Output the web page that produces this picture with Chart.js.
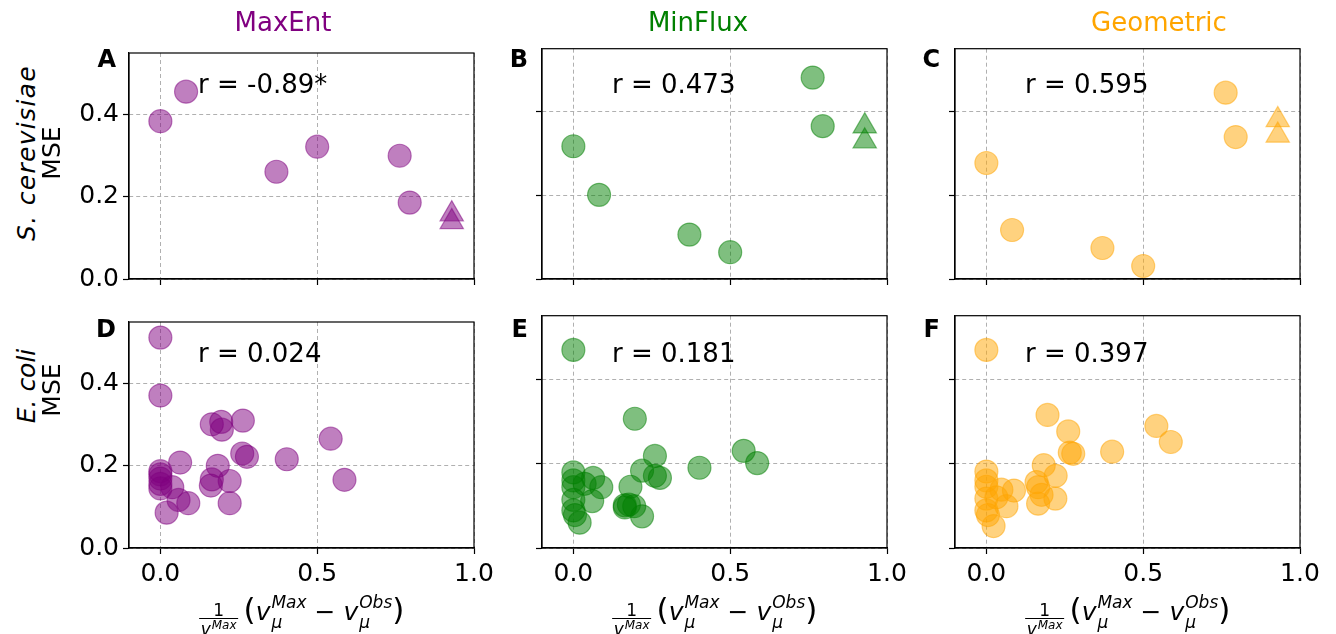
<!DOCTYPE html>
<html>
<head>
<meta charset="utf-8">
<script src="https://cdn.jsdelivr.net/npm/chart.js@4.4.1/dist/chart.umd.min.js"></script>
<style>
  body { margin: 0; background: #fff; }
  #fig { position: relative; width: 1336px; height: 634px; overflow: hidden; font-family: "DejaVu Sans", sans-serif; color: #000; }
  .panel { position: absolute; }
  .txt { position: absolute; white-space: nowrap; font-size: 26px; line-height: 26px; }
  .title { transform: translateX(-50%); }
  .letter { font-weight: bold; font-size: 24px; line-height: 24px; transform: translateX(-100%); }
  .ylab { font-size: 25px; line-height: 25px; transform: translate(-50%, -50%) rotate(-90deg); }
  .wide { letter-spacing: 1.3px; }
  .xl { position: absolute; white-space: nowrap; font-size: 25px; line-height: 30px; transform: translateX(-50%); }
  .frac { display: inline-flex; flex-direction: column; align-items: center; font-size: 17px; line-height: 16px; margin-right: 5px; position: relative; top: -4px; }
  .frac .den { border-top: 1.3px solid #000; padding: 2px 2px 0 2px; }
  .ss { display: inline-flex; flex-direction: column; font-size: 17px; line-height: 20px; font-style: italic; margin-left: 1px; position: relative; top: -12px; }
  .frac .ss { font-size: 12px; line-height: 12px; top: -6px; }
  .par { font-size: 31px; }
</style>
</head>
<body>
<div id="fig"></div>
<script>
// shared axis values
const xTicks = [0, 0.5, 1.0];
const yTicks = [0, 0.2, 0.4];

// S. cerevisiae (top row): circles + triangles
const scerX = [0, 0.082, 0.37, 0.5, 0.763, 0.795];
const scerTriX = [0.929, 0.929];
const maxEntScerY = [0.384, 0.456, 0.261, 0.322, 0.300, 0.186];
const maxEntScerTriY = [0.158, 0.139];
const minFluxScerY = [0.317, 0.201, 0.106, 0.064, 0.481, 0.365];
const minFluxScerTriY = [0.365, 0.329];
const geometricScerY = [0.277, 0.117, 0.074, 0.031, 0.445, 0.339];
const geometricScerTriY = [0.380, 0.343];

// E. coli (bottom row)
const maxEntEcoliX = [0, 0, 0, 0, 0, 0, 0, 0.02, 0.038, 0.058, 0.063, 0.089, 0.161, 0.164, 0.164, 0.183, 0.194, 0.196, 0.221, 0.221, 0.261, 0.263, 0.276, 0.403, 0.543, 0.587];
const maxEntEcoliY = [0.512, 0.371, 0.187, 0.179, 0.169, 0.156, 0.145, 0.086, 0.148, 0.117, 0.208, 0.109, 0.152, 0.167, 0.301, 0.200, 0.307, 0.288, 0.163, 0.109, 0.230, 0.310, 0.222, 0.216, 0.266, 0.166];
const minFluxEcoliX = [0, 0, 0, 0, 0, 0, 0.005, 0.02, 0.036, 0.06, 0.063, 0.089, 0.164, 0.164, 0.177, 0.182, 0.194, 0.196, 0.219, 0.219, 0.26, 0.26, 0.276, 0.402, 0.543, 0.586];
const minFluxEcoliY = [0.469, 0.179, 0.160, 0.144, 0.114, 0.089, 0.078, 0.060, 0.152, 0.111, 0.166, 0.144, 0.101, 0.096, 0.103, 0.145, 0.099, 0.306, 0.183, 0.075, 0.218, 0.171, 0.166, 0.190, 0.230, 0.201];
const geometricEcoliX = [0, 0, 0, 0, 0, 0, 0.005, 0.023, 0.032, 0.048, 0.064, 0.088, 0.160, 0.165, 0.165, 0.176, 0.183, 0.195, 0.220, 0.221, 0.261, 0.266, 0.277, 0.401, 0.542, 0.588];
const geometricEcoliY = [0.469, 0.181, 0.160, 0.145, 0.117, 0.089, 0.078, 0.052, 0.120, 0.138, 0.099, 0.136, 0.156, 0.144, 0.105, 0.126, 0.196, 0.315, 0.117, 0.171, 0.276, 0.226, 0.223, 0.228, 0.289, 0.251];

const methods = ['MaxEnt', 'MinFlux', 'Geometric'];
const rLabels = ['r = -0.89*', 'r = 0.473', 'r = 0.595', 'r = 0.024', 'r = 0.181', 'r = 0.397'];
const panelLetters = ['A', 'B', 'C', 'D', 'E', 'F'];

const methodColors = ['128,0,128', '0,128,0', '255,165,0'];

// layout (px)
const plotLeft = [129, 542, 955];
const plotTop = [44, 313];
const PW = 345, PH = 235;
const AXW = 70, AXH = 45, PADT = 10, PADR = 28;

Chart.defaults.font.family = 'DejaVu Sans';
Chart.defaults.color = '#000';

const frame = {
  id: 'frame',
  afterDraw(chart) {
    const {ctx, chartArea: a} = chart;
    ctx.save();
    ctx.strokeStyle = '#000';
    ctx.lineWidth = 1.2;
    ctx.strokeRect(a.left, a.top, a.right - a.left, a.bottom - a.top);
    ctx.restore();
  }
};

const pts = (xs, ys) => xs.map((x, i) => ({x: x, y: ys[i]}));

const panels = [
  {circles: pts(scerX, maxEntScerY), tris: pts(scerTriX, maxEntScerTriY)},
  {circles: pts(scerX, minFluxScerY), tris: pts(scerTriX, minFluxScerTriY)},
  {circles: pts(scerX, geometricScerY), tris: pts(scerTriX, geometricScerTriY)},
  {circles: pts(maxEntEcoliX, maxEntEcoliY), tris: []},
  {circles: pts(minFluxEcoliX, minFluxEcoliY), tris: []},
  {circles: pts(geometricEcoliX, geometricEcoliY), tris: []}
];

const fig = document.getElementById('fig');

function addText(cls, html, left, top, color) {
  const d = document.createElement('div');
  d.className = cls;
  d.innerHTML = html;
  d.style.left = left + 'px';
  d.style.top = top + 'px';
  if (color) d.style.color = color;
  fig.appendChild(d);
  return d;
}

panels.forEach((p, i) => {
  const row = Math.floor(i / 3), col = i % 3;
  const rgb = methodColors[col];
  const wrap = document.createElement('div');
  wrap.className = 'panel';
  const w = PW + AXW + PADR, h = PH + PADT + AXH;
  wrap.style.left = (plotLeft[col] - AXW) + 'px';
  wrap.style.top = (plotTop[row] - PADT) + 'px';
  const cv = document.createElement('canvas');
  cv.width = w; cv.height = h;
  cv.style.width = w + 'px'; cv.style.height = h + 'px';
  wrap.appendChild(cv);
  fig.appendChild(wrap);

  const gridOpts = {color: '#b0b0b0', lineWidth: 1, drawTicks: true, tickLength: 6, tickColor: '#000', tickWidth: 1.2, tickBorderDash: []};
  const borderOpts = {display: true, color: '#000', width: 1.2, dash: [4, 3]};
  const tickFont = {family: 'DejaVu Sans', size: 25};

  new Chart(cv, {
    type: 'scatter',
    data: {
      datasets: [
        {data: p.circles, pointStyle: 'circle', pointRadius: 11.5, pointHoverRadius: 11.5,
         backgroundColor: `rgba(${rgb},0.5)`, borderColor: `rgba(${rgb},0.5)`, borderWidth: 1.2},
        {data: p.tris, pointStyle: 'triangle', pointRadius: 13.5, pointHoverRadius: 13.5,
         backgroundColor: `rgba(${rgb},0.5)`, borderColor: `rgba(${rgb},0.5)`, borderWidth: 1.2}
      ]
    },
    options: {
      responsive: false,
      animation: false,
      devicePixelRatio: 1,
      layout: {padding: {left: 0, top: PADT, right: PADR, bottom: 0}},
      plugins: {legend: {display: false}, tooltip: {enabled: false}},
      scales: {
        x: {
          type: 'linear', position: 'bottom', min: -0.1, max: 1.0,
          afterBuildTicks: s => { s.ticks = xTicks.map(v => ({value: v})); },
          afterFit: s => { s.height = AXH; },
          grid: gridOpts, border: borderOpts,
          ticks: {display: row === 1, padding: 5, font: tickFont, maxRotation: 0, autoSkip: false,
                  callback: v => v.toFixed(1)}
        },
        y: {
          type: 'linear', position: 'left', min: 0, max: 0.55,
          afterBuildTicks: s => { s.ticks = yTicks.map(v => ({value: v})); },
          afterFit: s => { s.width = AXW; },
          grid: gridOpts, border: borderOpts,
          ticks: {display: col === 0, padding: 4, font: tickFont, autoSkip: false,
                  callback: v => v.toFixed(1)}
        }
      }
    },
    plugins: [frame]
  });

  // r value and panel letter
  addText('txt', rLabels[i], [198, 612, 1025][col], [71, 340][row]);
  addText('txt letter', panelLetters[i], [116, 528, 940][col], [47, 317][row]);
});

// column titles
const titleX = [283, 698, 1159];
methods.forEach((m, c) => addText('txt title', m, titleX[c], 9, `rgb(${methodColors[c]})`));

// row labels
addText('txt ylab wide', '<i>S. cerevisiae</i>', 26, 153);
addText('txt ylab', 'MSE', 51, 153);
addText('txt ylab', '<i>E. coli</i>', 26, 386);
addText('txt ylab', 'MSE', 51, 390);

// x axis labels
const ss = (a, b) => `<span class="ss"><span>${a}</span><span>${b}</span></span>`;
const xLabel = `<span class="frac"><span class="num">1</span><span class="den"><i>v</i>${ss('Max', 'μ')}</span></span>` +
  `<span class="par">(</span><i>v</i>${ss('Max', 'μ')} − <i>v</i>${ss('Obs', 'μ')}<span class="par">)</span>`;
plotLeft.forEach(l => addText('xl', xLabel, l + PW / 2, 594));
</script>
</body>
</html>
